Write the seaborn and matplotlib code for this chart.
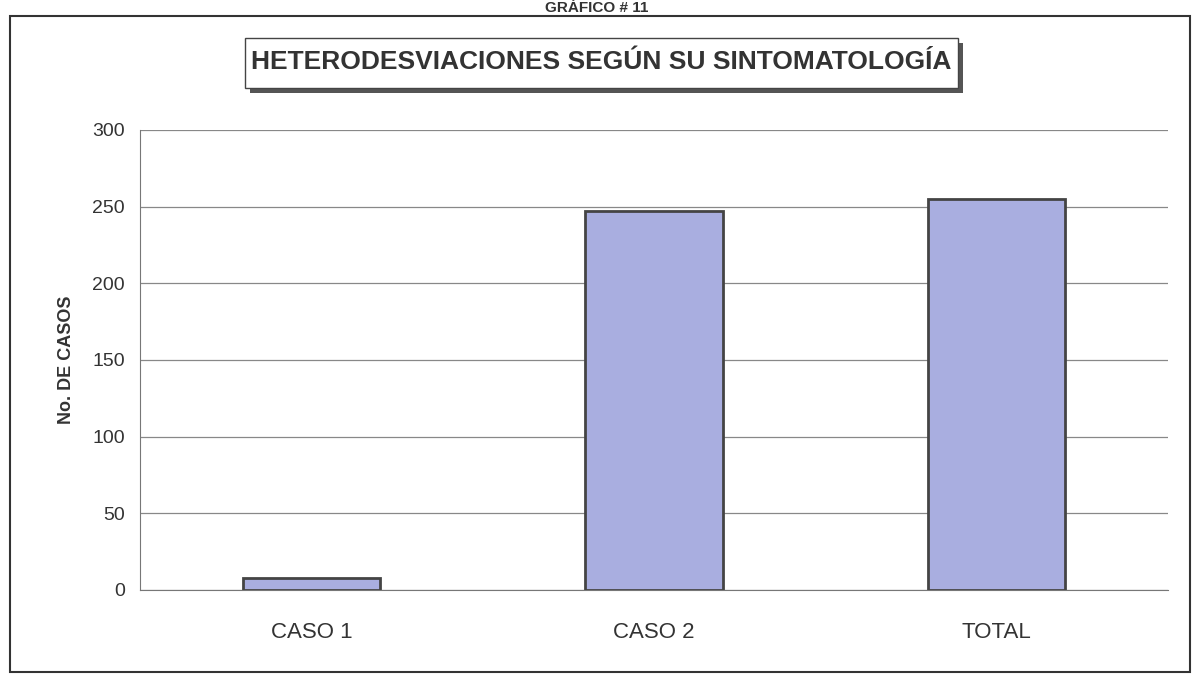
import matplotlib
matplotlib.use('Agg')
import matplotlib.pyplot as plt
import seaborn as sns
import pandas as pd

# Datos del grafico
categorias = ['CASO 1', 'CASO 2', 'TOTAL']
casos = [8, 247, 255]
ticks_y = [0, 50, 100, 150, 200, 250, 300]

df = pd.DataFrame({'categoria': categorias, 'casos': casos})

sns.set_style('white')
plt.rcParams['font.family'] = ['Liberation Sans', 'DejaVu Sans']

fig = plt.figure(figsize=(11.94, 6.76), dpi=100)
ax = fig.add_axes([140 / 1194, 1 - 590 / 676, 1028 / 1194, 460 / 676])

sns.barplot(data=df, x='categoria', y='casos', color='#a9aee0', width=0.4,
            edgecolor='#444444', linewidth=2, saturation=1, ax=ax)

ax.set_ylim(0, 300)
ax.set_yticks(ticks_y)
ax.yaxis.grid(True, color='#888888', linewidth=0.9)
ax.set_axisbelow(True)
for s in ['top', 'right']:
    ax.spines[s].set_visible(False)
ax.spines['left'].set_color('#777777')
ax.spines['bottom'].set_color('#777777')
ax.spines['bottom'].set_linestyle((0, (2, 1)))
ax.tick_params(axis='y', length=5, color='#777777', labelsize=14, labelcolor='#333333', pad=6)
ax.tick_params(axis='x', length=5, color='#777777', labelsize=16, labelcolor='#333333', pad=18)
ax.set_xlabel('')
ax.set_ylabel('No. DE CASOS', fontsize=13, fontweight='bold', color='#333333', labelpad=12)

# marco exterior
fig.patches.append(plt.Rectangle((10 / 1194, 4 / 676), 1180 / 1194, 656 / 676,
                                 transform=fig.transFigure, fill=False,
                                 edgecolor='#333333', linewidth=1.5))

# titulo con sombra
fig.patches.append(plt.Rectangle((250 / 1194, 1 - 93 / 676), 713 / 1194, 50 / 676,
                                 transform=fig.transFigure, facecolor='#555555',
                                 edgecolor='none'))
fig.patches.append(plt.Rectangle((245 / 1194, 1 - 88 / 676), 713 / 1194, 50 / 676,
                                 transform=fig.transFigure, facecolor='white',
                                 edgecolor='#444444', linewidth=1))
fig.text(601 / 1194, 1 - 62 / 676, 'HETERODESVIACIONES SEGÚN SU SINTOMATOLOGÍA',
         ha='center', va='center', fontsize=19, fontweight='bold', color='#333333')

# encabezado
fig.text(597 / 1194, 1 - 8 / 676, 'GRÁFICO # 11', ha='center', va='center',
         fontsize=11, fontweight='bold', color='#333333')

fig.savefig('out.png', dpi=100, facecolor='white')
